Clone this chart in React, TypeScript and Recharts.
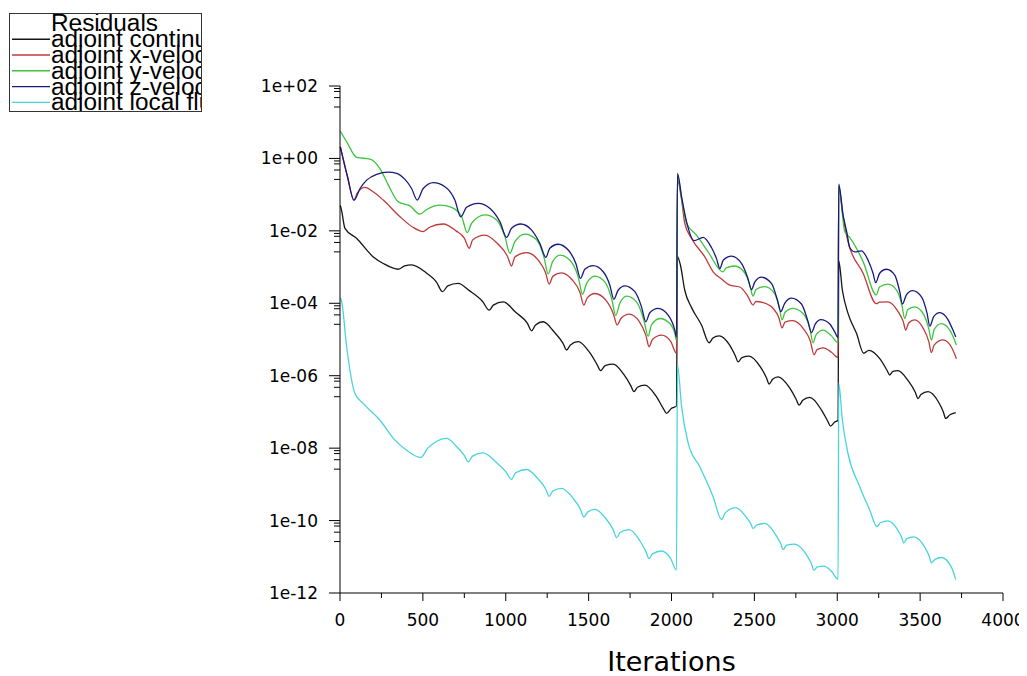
import { LineChart, Line, XAxis, YAxis } from "recharts";

// residual histories, [iteration, log10(residual)]
const continuity: [number, number][] = [
  [2, -1.3], [10, -1.45], [30, -1.93], [101, -2.21], [201, -2.72], [261, -2.9], [352, -3.06], [390, -2.97], [432, -2.94],
  [523, -3.17], [580, -3.4], [619, -3.68], [650, -3.52], [713, -3.45], [780, -3.65], [860, -3.95], [900, -4.19], [925, -4.05],
  [985, -3.96], [1060, -4.25], [1130, -4.55], [1156, -4.76], [1180, -4.6], [1226, -4.51], [1290, -4.78], [1345, -5.1],
  [1367, -5.29], [1390, -5.15], [1437, -5.06], [1505, -5.35], [1552, -5.7], [1572, -5.86], [1600, -5.72], [1648, -5.68],
  [1710, -5.95], [1755, -6.28], [1773, -6.44], [1795, -6.32], [1839, -6.26], [1905, -6.55], [1950, -6.9], [1970, -7.04],
  [2000, -6.9], [2030, -6.84],
  [2036, -2.71], [2054, -2.95], [2080, -3.64], [2121, -4.12], [2181, -4.6], [2227, -5.09], [2250, -4.96], [2287, -4.9],
  [2350, -5.15], [2385, -5.45], [2402, -5.62], [2425, -5.5], [2468, -5.46], [2535, -5.75], [2572, -6.05], [2589, -6.23],
  [2610, -6.1], [2643, -6.03], [2715, -6.35], [2752, -6.65], [2770, -6.81], [2792, -6.68], [2834, -6.6], [2905, -6.95],
  [2942, -7.25], [2959, -7.39], [2985, -7.28], [3005, -7.23],
  [3009, -2.83], [3031, -3.64], [3065, -4.28], [3116, -4.83], [3160, -5.38], [3190, -5.3], [3260, -5.55], [3300, -5.85],
  [3317, -5.98], [3335, -5.88], [3365, -5.86], [3430, -6.15], [3470, -6.45], [3487, -6.63], [3505, -6.52], [3548, -6.44],
  [3610, -6.72], [3640, -7.0], [3654, -7.18], [3680, -7.08], [3715, -7.02],
];

const xVelocity: [number, number][] = [
  [2, 0.32], [45, -0.5], [84, -1.15], [105, -0.95], [151, -0.8], [200, -0.92], [261, -1.15], [362, -1.61], [440, -1.9],
  [502, -2.02], [540, -1.9], [623, -1.81], [700, -2.0], [750, -2.2], [780, -2.48], [800, -2.25], [874, -2.12], [950, -2.35],
  [1010, -2.7], [1035, -2.97], [1055, -2.72], [1126, -2.6], [1195, -2.8], [1240, -3.15], [1262, -3.47], [1285, -3.25],
  [1337, -3.16], [1400, -3.35], [1448, -3.7], [1471, -4.05], [1492, -3.85], [1538, -3.73], [1605, -3.92], [1650, -4.3],
  [1672, -4.6], [1695, -4.42], [1745, -4.3], [1805, -4.5], [1845, -4.88], [1865, -5.2], [1885, -5.0], [1940, -4.88],
  [1995, -5.05], [2030, -5.38],
  [2036, -0.6], [2061, -1.15], [2080, -1.79], [2121, -2.21], [2201, -2.72], [2251, -3.13], [2302, -3.33], [2352, -3.5],
  [2412, -3.55], [2460, -3.8], [2492, -4.05], [2510, -3.95], [2553, -3.98], [2615, -4.15], [2648, -4.4], [2667, -4.68],
  [2685, -4.52], [2730, -4.48], [2795, -4.7], [2838, -5.05], [2860, -5.42], [2878, -5.28], [2915, -5.23], [2965, -5.35],
  [3005, -5.5],
  [3009, -0.8], [3035, -1.6], [3065, -2.3], [3156, -3.17], [3236, -4.01], [3255, -3.97], [3306, -3.96], [3370, -4.25],
  [3398, -4.5], [3413, -4.74], [3430, -4.55], [3467, -4.46], [3520, -4.7], [3552, -5.05], [3568, -5.36], [3585, -5.15],
  [3638, -5.01], [3690, -5.22], [3719, -5.53],
];

const yVelocity: [number, number][] = [
  [2, 0.75], [40, 0.46], [101, 0.03], [181, -0.02], [241, -0.28], [291, -0.73], [352, -1.2], [422, -1.31], [482, -1.54],
  [523, -1.41], [603, -1.29], [673, -1.35], [734, -1.61], [768, -2.05], [794, -1.79], [874, -1.56], [945, -1.7],
  [995, -2.16], [1025, -2.62], [1055, -2.3], [1116, -2.09], [1186, -2.25], [1230, -2.72], [1256, -3.19], [1283, -2.85],
  [1327, -2.67], [1387, -2.81], [1437, -3.27], [1463, -3.75], [1488, -3.45], [1538, -3.25], [1598, -3.41], [1638, -3.86],
  [1664, -4.33], [1688, -4.0], [1729, -3.8], [1789, -3.96], [1833, -4.46], [1859, -4.91], [1879, -4.6], [1930, -4.42],
  [1990, -4.56], [2020, -4.83], [2030, -5.02],
  [2036, -0.45], [2061, -1.1], [2091, -1.79], [2151, -2.12], [2221, -2.58], [2311, -3.13], [2330, -3.02], [2382, -2.97],
  [2440, -3.15], [2470, -3.45], [2492, -3.8], [2510, -3.62], [2563, -3.54], [2620, -3.72], [2650, -4.1], [2667, -4.46],
  [2685, -4.25], [2734, -4.14], [2800, -4.32], [2835, -4.7], [2854, -5.09], [2872, -4.87], [2915, -4.74], [2965, -4.9],
  [3005, -5.09],
  [3009, -0.75], [3045, -2.02], [3075, -2.18], [3156, -2.85], [3236, -3.77], [3255, -3.55], [3306, -3.47], [3360, -3.65],
  [3390, -4.05], [3407, -4.42], [3425, -4.18], [3467, -4.1], [3520, -4.3], [3552, -4.7], [3568, -5.02], [3585, -4.72],
  [3628, -4.56], [3680, -4.75], [3719, -5.15],
];

const zVelocity: [number, number][] = [
  [2, 0.32], [45, -0.5], [84, -1.15], [121, -0.83], [161, -0.6], [221, -0.44], [291, -0.38], [342, -0.41], [392, -0.58],
  [432, -0.83], [466, -1.15], [502, -0.83], [563, -0.67], [633, -0.78], [693, -1.15], [728, -1.61], [764, -1.35],
  [834, -1.24], [905, -1.38], [965, -1.75], [1005, -2.18], [1035, -1.93], [1090, -1.81], [1156, -1.98], [1206, -2.35],
  [1242, -2.73], [1266, -2.48], [1316, -2.37], [1377, -2.53], [1423, -2.9], [1451, -3.31], [1477, -3.06], [1527, -2.96],
  [1588, -3.13], [1628, -3.5], [1652, -3.89], [1678, -3.64], [1719, -3.52], [1779, -3.68], [1819, -4.1], [1845, -4.51],
  [1869, -4.26], [1919, -4.14], [1980, -4.33], [2020, -4.74], [2030, -4.93],
  [2036, -0.41], [2061, -1.06], [2091, -1.75], [2137, -2.27], [2191, -2.18], [2241, -2.46], [2271, -2.76], [2292, -3.04],
  [2312, -2.81], [2362, -2.7], [2422, -2.9], [2458, -3.27], [2483, -3.62], [2503, -3.41], [2543, -3.28], [2603, -3.45],
  [2639, -3.91], [2659, -4.23], [2683, -4.0], [2724, -3.86], [2784, -4.02], [2824, -4.51], [2844, -4.81], [2868, -4.57],
  [2901, -4.45], [2955, -4.57], [2985, -4.79], [3005, -4.95],
  [3009, -0.71], [3035, -1.56], [3059, -2.07], [3075, -2.46], [3106, -2.58], [3146, -2.55], [3186, -2.81], [3216, -3.17],
  [3232, -3.43], [3256, -3.17], [3297, -3.06], [3347, -3.22], [3377, -3.68], [3393, -4.02], [3417, -3.77], [3454, -3.65],
  [3508, -3.82], [3542, -4.28], [3558, -4.63], [3582, -4.37], [3618, -4.26], [3668, -4.45], [3698, -4.74], [3715, -4.93],
];

const localFlux: [number, number][] = [
  [2, -3.85], [10, -3.95], [40, -5.2], [90, -6.49], [141, -6.77], [241, -7.23], [332, -7.78], [402, -8.06], [487, -8.26],
  [530, -8.0], [563, -7.87], [643, -7.73], [704, -7.96], [750, -8.2], [774, -8.38], [800, -8.22], [864, -8.13],
  [940, -8.38], [1000, -8.65], [1035, -8.86], [1060, -8.68], [1126, -8.59], [1195, -8.85], [1240, -9.12], [1262, -9.33],
  [1285, -9.18], [1337, -9.11], [1405, -9.38], [1450, -9.68], [1471, -9.9], [1495, -9.76], [1538, -9.69], [1605, -9.95],
  [1648, -10.25], [1669, -10.47], [1690, -10.33], [1745, -10.25], [1808, -10.55], [1845, -10.85], [1865, -11.05],
  [1885, -10.92], [1940, -10.84], [1995, -11.05], [2030, -11.37],
  [2036, -5.71], [2061, -6.86], [2101, -7.87], [2171, -8.52], [2251, -9.34], [2302, -9.97], [2325, -9.78], [2388, -9.64],
  [2450, -9.9], [2478, -10.08], [2492, -10.22], [2515, -10.12], [2563, -10.08], [2630, -10.4], [2660, -10.65],
  [2673, -10.8], [2695, -10.68], [2744, -10.65], [2815, -10.95], [2845, -11.2], [2858, -11.37], [2880, -11.28],
  [2919, -11.26], [2965, -11.4], [3005, -11.62],
  [3009, -6.21], [3031, -7.23], [3065, -8.15], [3136, -9.07], [3196, -9.71], [3240, -10.17], [3260, -10.06],
  [3306, -10.01], [3370, -10.3], [3390, -10.48], [3401, -10.62], [3420, -10.5], [3461, -10.45], [3530, -10.75],
  [3556, -11.0], [3568, -11.17], [3590, -11.07], [3628, -11.02], [3690, -11.3], [3715, -11.63],
];

const legendTitle = "Residuals";
const seriesNames = [
  "adjoint continuity",
  "adjoint x-velocity",
  "adjoint y-velocity",
  "adjoint z-velocity",
  "adjoint local flux",
];
const seriesColors = ["#151515", "#c03a3a", "#3cc43c", "#18187e", "#48d4dc"];
const seriesPoints = [continuity, xVelocity, yVelocity, zVelocity, localFlux];

const xTicks = [0, 250, 500, 750, 1000, 1250, 1500, 1750, 2000, 2250, 2500, 2750, 3000, 3250, 3500, 3750, 4000];
const yMajor = [2, 0, -2, -4, -6, -8, -10, -12];
const yMinorSteps = [0.07, 0.15, 0.32, 0.58];
const yTicks = yMajor.flatMap((e) =>
  e > -12 ? [e, ...yMinorSteps.map((s) => +(e - s).toFixed(2))] : [e]
);

const FONT = "DejaVu Sans";

const expLabel = (e: number) =>
  `1e${e >= 0 ? "+" : "-"}${String(Math.abs(e)).padStart(2, "0")}`;

const YTick = (props: any) => {
  const { x, y, payload } = props;
  const major = yMajor.includes(payload.value);
  return (
    <g>
      <line x1={x - (major ? 11 : 6)} x2={x} y1={y} y2={y} stroke="#000" strokeWidth={1} />
      {major && (
        <text x={x - 22} y={y + 6} textAnchor="end" fontFamily={FONT} fontSize={17} fill="#000">
          {expLabel(payload.value)}
        </text>
      )}
    </g>
  );
};

const XTick = (props: any) => {
  const { x, y, payload } = props;
  const major = payload.value % 500 === 0;
  return (
    <g>
      <line x1={x} x2={x} y1={y} y2={y + (major ? 8 : 5)} stroke="#000" strokeWidth={1} />
      {major && (
        <text x={x} y={y + 33} textAnchor="middle" fontFamily={FONT} fontSize={17} fill="#000">
          {payload.value}
        </text>
      )}
    </g>
  );
};

// legend box drawn like the solver's residual monitor, text clipped by the frame
function ResidualLegend() {
  return (
    <div
      style={{
        position: "absolute",
        left: 1,
        top: 5,
        width: 193,
        height: 99,
        boxSizing: "border-box",
        border: "1px solid #333",
        background: "#fff",
        overflow: "hidden",
      }}
    >
      <svg width={191} height={97}>
        <text
          transform="translate(41 17.4) scale(1.06 1)"
          fontFamily="Liberation Sans"
          fontSize={23}
          fill="#000"
        >
          {legendTitle}
        </text>
        {seriesNames.map((name, i) => {
          const base = 17.4 + 15.8 * (i + 1);
          return (
            <g key={name}>
              <line x1={2} x2={40} y1={base - 8} y2={base - 8} stroke={seriesColors[i]} strokeWidth={1.4} />
              <text
                transform={`translate(41 ${base}) scale(1.06 1)`}
                fontFamily="Liberation Sans"
                fontSize={23}
                fill="#000"
              >
                {name}
              </text>
            </g>
          );
        })}
      </svg>
    </div>
  );
}

export default function App() {
  return (
    <div style={{ position: "relative", width: 1011, height: 668 }}>
      <LineChart width={1011} height={668} margin={{ top: 78, right: 16, bottom: 5, left: 272 }}>
        <XAxis
          type="number"
          dataKey="x"
          domain={[0, 4000]}
          ticks={xTicks}
          interval={0}
          height={78}
          tickSize={0}
          tickMargin={0}
          tickLine={false}
          axisLine={{ stroke: "#000" }}
          tick={<XTick />}
          label={{
            value: "Iterations",
            position: "insideBottom",
            offset: 0,
            style: { fontFamily: FONT, fontSize: 27, fill: "#000" },
          }}
        />
        <YAxis
          type="number"
          dataKey="y"
          domain={[-12, 2]}
          ticks={yTicks}
          interval={0}
          width={60}
          tickSize={0}
          tickMargin={0}
          tickLine={false}
          axisLine={{ stroke: "#000" }}
          tick={<YTick />}
        />
        {seriesPoints.map((pts, i) => (
          <Line
            key={seriesNames[i]}
            name={seriesNames[i]}
            data={pts.map(([x, y]) => ({ x, y }))}
            dataKey="y"
            type="monotone"
            stroke={seriesColors[i]}
            strokeWidth={1.3}
            dot={false}
            activeDot={false}
            isAnimationActive={false}
          />
        ))}
      </LineChart>
      <ResidualLegend />
    </div>
  );
}
